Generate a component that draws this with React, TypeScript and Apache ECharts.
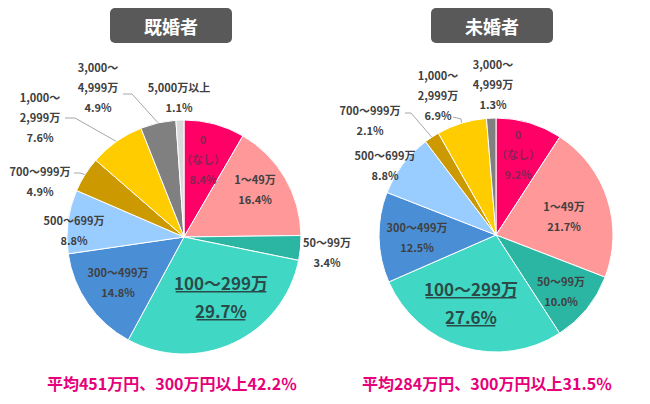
import React, { useEffect, useRef } from 'react';
import * as echarts from 'echarts';

// ---- data ----
const categories = [
  '0\n（なし）',
  '1～49万',
  '50～99万',
  '100～299万',
  '300～499万',
  '500～699万',
  '700～999万',
  '1,000～\n2,999万',
  '3,000～\n4,999万',
  '5,000万以上',
];
const marriedValues = [8.4, 16.4, 3.4, 29.7, 14.8, 8.8, 4.9, 7.6, 4.9, 1.1];
const singleValues = [9.2, 21.7, 10.0, 27.6, 12.5, 8.8, 2.1, 6.9, 1.3];
const titles = ['既婚者', '未婚者'];
const summaries = ['平均451万円、300万円以上42.2％', '平均284万円、300万円以上31.5％'];

// ---- styles / layout ----
const sliceColors = ['#FF0066', '#FF9999', '#2BB5A3', '#40D8C5', '#4A8FD6', '#99CCFF', '#CC9900', '#FFCC00', '#808080', '#D9D9D9'];
const FONT = "'Noto Sans CJK JP', 'Noto Sans', sans-serif";
const pieCenters = [[184, 237], [496, 235]];
const pieRadius = 117;
const highlightIndex = 3;
// label block centre offsets from pie centre
const labelOffsets = [
  [[19, -78], [71, -48], [143, 15], [37, 64], [-66, 45], [-110, -7], [-144, -56], [-144, -120], [-86, -150], [-5, -140]],
  [[22, -81], [68, -19], [65, 56], [-25, 72], [-79, 2], [-111, -70], [-126, -115], [-58, -140], [-3, -151]],
];
const outsideIdx = [[2, 6, 7, 8, 9], [5, 6, 7, 8]];
// leader line start/elbow offsets from pie centre (end = slice edge)
const leaderLines: Record<number, number[][]>[] = [
  { 6: [[-110, -64], [-104, -64]], 7: [[-119, -119], [-109, -119]], 8: [[-61, -143], [-52, -143]] },
  { 6: [[-91, -122], [-85, -122]], 7: [[-43, -118], [-35, -116]] },
];

function measure(text: string, font: string) {
  const ctx = document.createElement('canvas').getContext('2d');
  if (!ctx) return text.length * 10;
  ctx.font = font;
  return ctx.measureText(text).width;
}

function buildSeries(s: number, values: number[]) {
  const [cx, cy] = pieCenters[s];
  const total = values.reduce((a, b) => a + b, 0);
  const bigColor = '#2B4B48';
  const bigFont = `17px ${FONT}`;
  const data = values.map((v, i) => {
    const pct = v.toFixed(1) + '%';
    const isBig = i === highlightIndex;
    const outside = outsideIdx[s].includes(i);
    const label: any = {
      position: outside ? 'outside' : 'inside',
      color: i === 0 ? '#8A2352' : '#404040',
    };
    if (isBig) {
      const w1 = measure(categories[i], bigFont);
      const w2 = measure(pct, bigFont);
      label.formatter = `{b|${categories[i]}}\n{u1| }\n{b|${pct}}\n{u2| }`;
      label.rich = {
        b: { fontSize: 17, lineHeight: 18, color: bigColor, fontFamily: FONT },
        u1: { width: w1, height: 1.5, lineHeight: 10, verticalAlign: 'top', backgroundColor: bigColor, fontSize: 1 },
        u2: { width: w2, height: 1.5, lineHeight: 10, verticalAlign: 'top', backgroundColor: bigColor, fontSize: 1 },
      };
    } else {
      label.formatter = `${categories[i]}\n${pct}`;
    }
    return {
      name: categories[i],
      value: v,
      itemStyle: { color: sliceColors[i] },
      label,
      labelLine: { show: !!leaderLines[s][i] },
    };
  });
  return {
    type: 'pie',
    center: [cx, cy],
    radius: pieRadius,
    startAngle: 90,
    clockwise: true,
    avoidLabelOverlap: false,
    emphasis: { disabled: true },
    itemStyle: { borderColor: '#ffffff', borderWidth: 1 },
    label: {
      show: true,
      fontFamily: FONT,
      fontSize: 11,
      lineHeight: 20,
      fontWeight: 'bold',
      color: '#404040',
    },
    labelLine: { show: false, lineStyle: { color: '#A6A6A6', width: 1 } },
    labelLayout: (params: any) => {
      const i = params.dataIndex;
      const [dx, dy] = labelOffsets[s][i];
      const res: any = { x: cx + dx, y: cy + dy, align: 'center', verticalAlign: 'middle' };
      const ll = leaderLines[s][i];
      if (ll) {
        let before = 0;
        for (let k = 0; k < i; k++) before += values[k];
        const mid = ((before + values[i] / 2) / total) * Math.PI * 2;
        const edge = [cx + pieRadius * Math.sin(mid), cy - pieRadius * Math.cos(mid)];
        res.labelLinePoints = [[cx + ll[0][0], cy + ll[0][1]], [cx + ll[1][0], cy + ll[1][1]], edge];
      }
      return res;
    },
    data,
  };
}

export default function App() {
  const ref = useRef<HTMLDivElement>(null);
  useEffect(() => {
    if (!ref.current) return;
    const chart = echarts.init(ref.current, undefined, { renderer: 'svg' });
    const boxes = [[110, 8], [431, 8]];
    const summaryX = [172, 487];
    chart.setOption({
      animation: false,
      backgroundColor: '#ffffff',
      textStyle: { fontFamily: FONT },
      series: [buildSeries(0, marriedValues), buildSeries(1, singleValues)],
      graphic: [
        ...titles.flatMap((t, k) => [
          {
            type: 'rect',
            shape: { x: boxes[k][0], y: boxes[k][1], width: 122, height: 35, r: 5 },
            style: { fill: '#595959' },
          },
          {
            type: 'text',
            x: boxes[k][0] + 61,
            y: boxes[k][1] + 18,
            style: {
              text: t,
              fill: '#ffffff',
              font: `bold 18px ${FONT}`,
              align: 'center',
              verticalAlign: 'middle',
              textAlign: 'center',
              textVerticalAlign: 'middle',
            },
          },
        ]),
        ...summaries.map((t, k) => ({
          type: 'text',
          x: summaryX[k],
          y: 383,
          style: {
            text: t,
            fill: '#E6007A',
            font: `bold 16px ${FONT}`,
            align: 'center',
            verticalAlign: 'middle',
            textAlign: 'center',
            textVerticalAlign: 'middle',
          },
        })),
      ],
    });
    return () => chart.dispose();
  }, []);
  return <div ref={ref} style={{ position: 'fixed', left: 0, top: 0, width: 650, height: 404 }} />;
}
